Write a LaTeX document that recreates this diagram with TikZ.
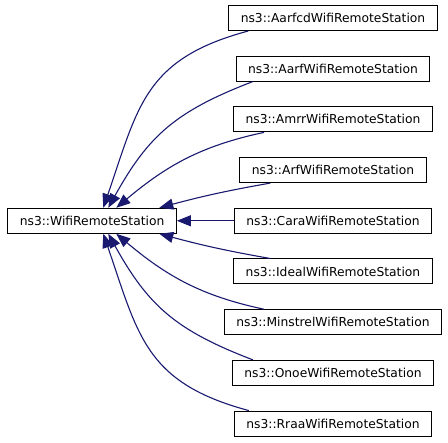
\documentclass[tikz,border=0pt]{standalone}
\usepackage{fontspec}
\setmainfont{DejaVu Sans}
\usetikzlibrary{positioning,arrows.meta}
\definecolor{midnightblue}{RGB}{25,25,112}

\begin{document}
\begin{tikzpicture}[
  x=1pt, y=1pt,
  cls/.style={rectangle, draw, line width=1pt, text centered, minimum height=25pt, inner xsep=12pt, inner ysep=1pt, font=\fontsize{12.3}{14}\selectfont},
  inherit/.style={-{Triangle[length=14pt,width=11pt]}, midnightblue, line width=1.1pt}
]
\useasboundingbox (0,0) rectangle (448,443);

% Clases
\node[cls] (aarfcd) at (333,425) {ns3::AarfcdWifiRemoteStation};
\node[cls, below=24.7pt of aarfcd] (aarf) {ns3::AarfWifiRemoteStation};
\node[cls, below=24.7pt of aarf] (amrr) {ns3::AmrrWifiRemoteStation};
\node[cls, below=24.7pt of amrr] (arf) {ns3::ArfWifiRemoteStation};
\node[cls, below=24.7pt of arf] (cara) {ns3::CaraWifiRemoteStation};
\node[cls, below=24.7pt of cara] (ideal) {ns3::IdealWifiRemoteStation};
\node[cls, below=24.7pt of ideal] (minstrel) {ns3::MinstrelWifiRemoteStation};
\node[cls, below=24.7pt of minstrel] (onoe) {ns3::OnoeWifiRemoteStation};
\node[cls, below=24.7pt of onoe] (rraa) {ns3::RraaWifiRemoteStation};
\node[cls, left=57pt of cara] (wifistation) {ns3::WifiRemoteStation};

% Herencia
\draw[inherit] ([xshift=20pt]aarfcd.south west) to[out=195, in=71, looseness=1.2] ([xshift=96pt]wifistation.north west);
\draw[inherit] ([xshift=17pt]aarf.south west) to[out=201, in=61, looseness=1.1] ([xshift=101pt]wifistation.north west);
\draw[inherit] ([xshift=31pt]amrr.south west) to[out=192, in=40] ([xshift=109pt]wifistation.north west);
\draw[inherit] ([xshift=31pt]arf.south west) to[out=190, in=15] ([xshift=152pt]wifistation.north west);
\draw[inherit] (cara) -- (wifistation);
\draw[inherit] ([xshift=37pt]ideal.north west) to[out=170, in=-15] ([xshift=152pt]wifistation.south west);
\draw[inherit] ([xshift=40pt]minstrel.north west) to[out=168, in=-40] ([xshift=109pt]wifistation.south west);
\draw[inherit] ([xshift=21pt]onoe.north west) to[out=159, in=-61, looseness=1.1] ([xshift=101pt]wifistation.south west);
\draw[inherit] ([xshift=15pt]rraa.north west) to[out=165, in=-71, looseness=1.2] ([xshift=96pt]wifistation.south west);

\end{tikzpicture}
\end{document}
